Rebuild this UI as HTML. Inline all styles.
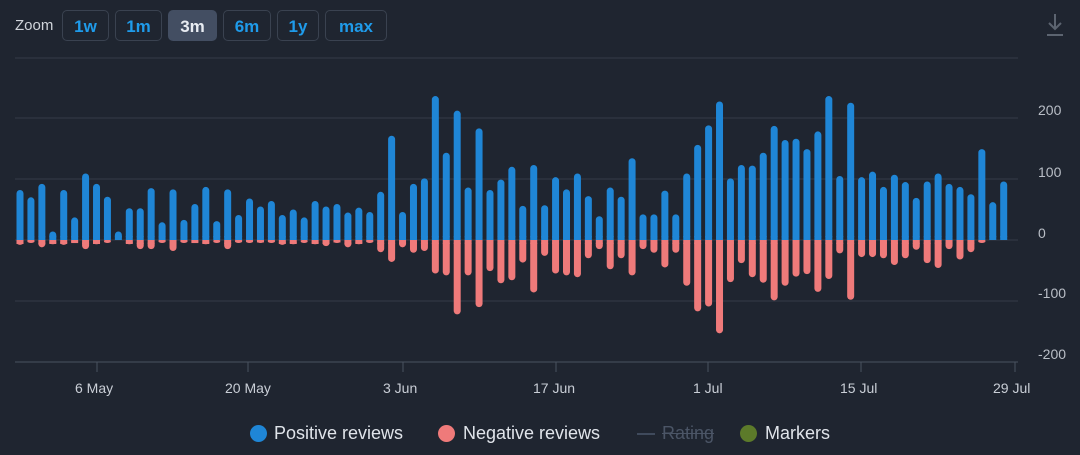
<!DOCTYPE html>
<html><head><meta charset="utf-8"><style>
body{margin:0;background:#1f2530;width:1080px;height:455px;overflow:hidden;font-family:"Liberation Sans",sans-serif;}
.btn{position:absolute;top:10px;height:31px;border:1px solid #3a4250;border-radius:5px;color:#1f9bea;font-weight:bold;font-size:17px;line-height:31px;text-align:center;box-sizing:border-box}
.sel{background:#434e62;color:#e8ecf2;border-color:#434e62}
.t{position:absolute;color:#c9ced6;font-size:14px}
.y{position:absolute;color:#b9bec6;font-size:14px;left:1038px}
.lg{position:absolute;top:423px;font-size:18px;color:#e0e4ea}
.dot{position:absolute;top:425px;width:17px;height:17px;border-radius:50%}
</style></head><body>
<div class="t" style="left:15px;top:17px;font-size:15px;color:#d0d4da">Zoom</div>
<div class="btn" style="left:62px;width:47px">1w</div>
<div class="btn" style="left:115px;width:47px">1m</div>
<div class="btn sel" style="left:168px;width:49px">3m</div>
<div class="btn" style="left:223px;width:48px">6m</div>
<div class="btn" style="left:277px;width:42px">1y</div>
<div class="btn" style="left:325px;width:62px">max</div>
<svg style="position:absolute;left:1044px;top:12px" width="22" height="26"><path d="M11 2v15M5 11l6 6 6-6M3 23h16" stroke="#5c6470" stroke-width="2" fill="none"/></svg>
<svg id="c" style="position:absolute;left:0;top:0" width="1080" height="455"></svg>
<div class="y" style="top:102px">200</div>
<div class="y" style="top:164px">100</div>
<div class="y" style="top:225px">0</div>
<div class="y" style="top:285px">-100</div>
<div class="y" style="top:346px">-200</div>
<div class="t" style="left:75px;top:380px">6 May</div>
<div class="t" style="left:225px;top:380px">20 May</div>
<div class="t" style="left:383px;top:380px">3 Jun</div>
<div class="t" style="left:533px;top:380px">17 Jun</div>
<div class="t" style="left:693px;top:380px">1 Jul</div>
<div class="t" style="left:840px;top:380px">15 Jul</div>
<div class="t" style="left:993px;top:380px">29 Jul</div>
<div class="dot" style="left:250px;background:#1f86d6"></div>
<div class="lg" style="left:274px">Positive reviews</div>
<div class="dot" style="left:438px;background:#ef7a7a"></div>
<div class="lg" style="left:463px">Negative reviews</div>
<div style="position:absolute;left:637px;top:433px;width:18px;height:2px;background:#3f4a5c"></div>
<div class="lg" style="left:662px;color:#4b5566;text-decoration:line-through">Rating</div>
<div class="dot" style="left:740px;background:#5c7a2a"></div>
<div class="lg" style="left:765px">Markers</div>
<script>
var p=[82,70,92,14,82,37,109,92,71,14,52,52,85,29,83,33,59,87,31,83,41,68,55,64,41,50,37,64,55,59,45,53,46,79,171,46,92,101,236,143,212,86,183,82,99,120,56,123,57,103,83,109,72,39,86,71,134,42,42,81,42,109,156,188,227,101,123,122,143,187,164,166,149,178,236,105,225,103,112,87,107,95,69,96,109,92,87,75,149,62,96];
var n=[8,3,12,7,8,5,15,7,1,0,7,15,15,3,18,3,5,7,1,15,3,3,4,3,8,7,1,7,10,4,12,7,3,20,36,12,21,18,55,58,122,58,110,51,71,66,37,86,26,55,58,61,30,15,48,30,58,15,21,45,21,75,117,109,153,69,38,61,70,99,75,60,56,85,64,22,98,28,28,30,41,30,16,38,46,15,32,20,3,0,0];
var s='';
[58,118,179,240,301].forEach(function(y){s+='<line x1="15" x2="1018" y1="'+y+'" y2="'+y+'" stroke="#343c49" stroke-width="1"/>';});
s+='<line x1="15" x2="1018" y1="362" y2="362" stroke="#4a5260" stroke-width="1"/>';
[97,248,403,556,708,861,1015].forEach(function(x){s+='<line x1="'+x+'" x2="'+x+'" y1="362" y2="372" stroke="#4a5260"/>';});
var k=0.61;
for(var i=0;i<p.length;i++){var x=20+i*10.93;
 if(n[i]>0){var h=n[i]*k;s+='<rect x="'+(x-3.5)+'" y="240" width="7" height="'+Math.max(h,3)+'" rx="3.5" fill="#ef7a7a"/>';s+='<rect x="'+(x-3.5)+'" y="240" width="7" height="'+Math.min(4,h)+'" fill="#ef7a7a"/>';}
 var hp=p[i]*k;s+='<rect x="'+(x-3.5)+'" y="'+(240-hp)+'" width="7" height="'+hp+'" rx="3.5" fill="#1f86d6"/>';s+='<rect x="'+(x-3.5)+'" y="'+(240-Math.min(4,hp))+'" width="7" height="'+Math.min(4,hp)+'" fill="#1f86d6"/>';
}
document.getElementById('c').innerHTML=s;
</script>
</body></html>
